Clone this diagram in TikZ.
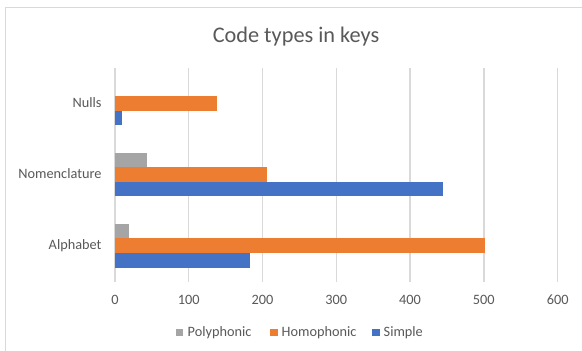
\documentclass[tikz,border=0pt]{standalone}
\usepackage{fontspec}
\setmainfont{Carlito}
\usepackage{xcolor}
\usepackage{tikz}
\usetikzlibrary{positioning}

\definecolor{polycol}{HTML}{A5A5A5}
\definecolor{homocol}{HTML}{ED7D31}
\definecolor{simplecol}{HTML}{4472C4}
\definecolor{gridcol}{HTML}{D9D9D9}
\definecolor{textcol}{HTML}{595959}

\begin{document}
\begin{tikzpicture}[x=1pt, y=-1pt,
  every node/.style={text=textcol, inner sep=0pt, font=\fontsize{14.3}{16}\selectfont},
  gridline/.style={draw=gridcol, line width=1.3pt},
  legbox/.style={minimum size=7.5pt, anchor=center}]
  \useasboundingbox (0,0) rectangle (582,351);
  \clip (0,0) rectangle (582,351);
  \fill[white] (0,0) rectangle (582,351);
  \draw[gridcol, line width=1pt] (5.5,7.5) rectangle (600,370);

  \node[font=\fontsize{22.3}{26}\selectfont] (title) at (296,37) {Code types in keys};

  % value axis: 0 at x=115, 0.7377 per unit
  \begin{scope}[xshift=115pt, x=0.7377pt]
    \draw[gridline] (0,67.7) -- (0,281.7);
    \draw[gridline] (100,67.7) -- (100,281.7);
    \draw[gridline] (200,67.7) -- (200,281.7);
    \draw[gridline] (300,67.7) -- (300,281.7);
    \draw[gridline] (400,67.7) -- (400,281.7);
    \draw[gridline] (500,67.7) -- (500,281.7);
    \draw[gridline] (600,67.7) -- (600,281.7);

    \node (t0) at (0,300) {0};
    \node (t100) at (100,300) {100};
    \node (t200) at (200,300) {200};
    \node (t300) at (300,300) {300};
    \node (t400) at (400,300) {400};
    \node (t500) at (500,300) {500};
    \node (t600) at (600,300) {600};

    % Nulls
    \fill[homocol] (0,96) rectangle (138,110.5);
    \fill[simplecol] (0,110.5) rectangle (9,125);
    % Nomenclature
    \fill[polycol] (0,152.9) rectangle (44,167.3);
    \fill[homocol] (0,167.3) rectangle (206,181.7);
    \fill[simplecol] (0,181.7) rectangle (445,196.1);
    % Alphabet
    \fill[polycol] (0,223.7) rectangle (19,238.4);
    \fill[homocol] (0,238.4) rectangle (502,253.2);
    \fill[simplecol] (0,253.2) rectangle (183,268);
  \end{scope}

  \node[anchor=east] (nulls) at (101.7,102.5) {Nulls};
  \node[anchor=east] (nomen) at (101.7,174) {Nomenclature};
  \node[anchor=east] (alpha) at (101.7,245.5) {Alphabet};

  % legend
  \node[legbox, fill=polycol] (kpoly) at (179.5,332.3) {};
  \node[anchor=west] (lpoly) at (187.5,332.3) {Polyphonic};
  \node[legbox, fill=homocol] (khomo) at (273.8,332.3) {};
  \node[anchor=west] (lhomo) at (281.5,332.3) {Homophonic};
  \node[legbox, fill=simplecol] (ksimple) at (375.8,332.3) {};
  \node[anchor=west] (lsimple) at (383.5,332.3) {Simple};
\end{tikzpicture}
\end{document}
